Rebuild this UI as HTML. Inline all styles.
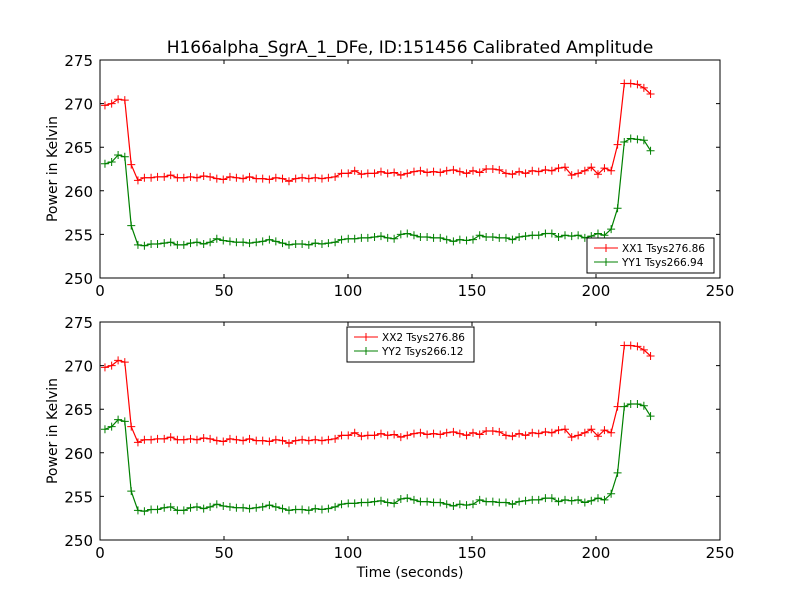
<!DOCTYPE html>
<html><head><meta charset="utf-8"><style>
body{margin:0;background:#fff;width:800px;height:600px;overflow:hidden}
svg{font-family:"DejaVu Sans","Liberation Sans",sans-serif}
</style></head><body>
<svg id="fig" width="800" height="600" xmlns="http://www.w3.org/2000/svg">
<rect width="800" height="600" fill="#fff"/>
<text x="410" y="53" font-size="17" text-anchor="middle">H166alpha_SgrA_1_DFe, ID:151456 Calibrated Amplitude</text>
<text x="410" y="577" font-size="14" text-anchor="middle">Time (seconds)</text>
</svg>
<script>
const times=[2.0,4.7,7.3,10.0,12.6,15.3,17.9,20.6,23.2,25.9,28.5,31.2,33.8,36.5,39.1,41.8,44.4,47.1,49.7,52.4,55.0,57.7,60.3,63.0,65.6,68.3,70.9,73.6,76.2,78.9,81.5,84.2,86.8,89.5,92.1,94.8,97.4,100.1,102.7,105.4,108.0,110.7,113.3,116.0,118.6,121.3,123.9,126.6,129.2,131.9,134.5,137.2,139.8,142.5,145.1,147.8,150.4,153.1,155.7,158.4,161.0,163.7,166.3,169.0,171.6,174.3,176.9,179.6,182.2,184.9,187.5,190.2,192.8,195.5,198.1,200.8,203.4,206.1,208.7,211.4,214.0,216.7,219.3,222.0];
const xx1=[269.8,270.0,270.5,270.4,263.0,261.2,261.5,261.5,261.6,261.6,261.8,261.5,261.5,261.6,261.5,261.7,261.6,261.4,261.3,261.6,261.5,261.4,261.6,261.4,261.4,261.3,261.5,261.4,261.1,261.4,261.5,261.4,261.5,261.4,261.5,261.6,262.0,262.0,262.3,261.9,262.0,262.0,262.2,262.0,262.1,261.8,262.0,262.2,262.3,262.1,262.2,262.1,262.3,262.4,262.2,262.0,262.3,262.1,262.5,262.5,262.4,262.0,261.9,262.2,262.0,262.3,262.2,262.4,262.3,262.6,262.7,261.8,262.0,262.3,262.7,261.9,262.6,262.3,265.3,272.3,272.3,272.2,271.8,271.1];
const yy1=[263.1,263.3,264.1,263.9,256.0,253.8,253.7,253.9,253.9,254.0,254.1,253.8,253.8,254.0,254.1,253.9,254.1,254.5,254.3,254.2,254.1,254.1,254.0,254.1,254.2,254.4,254.2,254.0,253.8,253.9,253.9,253.8,254.0,253.9,254.0,254.1,254.4,254.5,254.5,254.6,254.6,254.7,254.8,254.6,254.5,255.0,255.1,254.9,254.7,254.7,254.6,254.6,254.4,254.2,254.4,254.3,254.4,254.9,254.7,254.7,254.6,254.6,254.4,254.7,254.8,254.9,254.9,255.1,255.1,254.7,254.9,254.8,254.9,254.6,254.8,255.1,254.9,255.6,258.0,265.6,266.0,265.9,265.8,264.6];
const xx2=[269.8,270.0,270.6,270.4,263.0,261.2,261.5,261.5,261.6,261.6,261.8,261.5,261.5,261.6,261.5,261.7,261.6,261.4,261.3,261.6,261.5,261.4,261.6,261.4,261.4,261.3,261.5,261.4,261.1,261.4,261.5,261.4,261.5,261.4,261.5,261.6,262.0,262.0,262.3,261.9,262.0,262.0,262.2,262.0,262.1,261.8,262.0,262.2,262.3,262.1,262.2,262.1,262.3,262.4,262.2,262.0,262.3,262.1,262.5,262.5,262.4,262.0,261.9,262.2,262.0,262.3,262.2,262.4,262.3,262.6,262.7,261.8,262.0,262.3,262.7,261.9,262.6,262.3,265.3,272.3,272.3,272.2,271.8,271.1];
const yy2=[262.7,263.0,263.8,263.6,255.6,253.4,253.3,253.5,253.5,253.7,253.8,253.4,253.4,253.7,253.8,253.6,253.8,254.1,253.9,253.8,253.7,253.7,253.6,253.7,253.8,254.0,253.8,253.6,253.4,253.5,253.5,253.4,253.6,253.5,253.6,253.8,254.1,254.2,254.2,254.3,254.3,254.4,254.5,254.3,254.2,254.7,254.8,254.6,254.4,254.4,254.3,254.3,254.1,253.9,254.1,254.0,254.1,254.6,254.4,254.4,254.3,254.3,254.1,254.4,254.5,254.6,254.6,254.8,254.8,254.4,254.6,254.5,254.6,254.3,254.5,254.8,254.6,255.3,257.7,265.3,265.6,265.6,265.4,264.2];
const xTicks=[0,50,100,150,200,250];
const yTicks=[250,255,260,265,270,275];
const legend1=["XX1 Tsys276.86","YY1 Tsys266.94"];
const legend2=["XX2 Tsys276.86","YY2 Tsys266.12"];

const NS="http://www.w3.org/2000/svg";
const svg=document.getElementById('fig');
function mk(tag,attrs,parent){const e=document.createElementNS(NS,tag);for(const k in attrs)e.setAttribute(k,attrs[k]);(parent||svg).appendChild(e);return e;}

function panel(top,s1,s2,leg,lx,ly,idx){
  const L=100,R=720,T=top,B=top+218;
  const xs=v=>L+(v-0)/(250-0)*(R-L);
  const ys=v=>B-(v-250)/(275-250)*(B-T);
  const g=mk('g',{});
  
  
  [[s1,'#ff0000','xx'],[s2,'#008000','yy']].forEach(([d,c,n])=>{
    const pts=d.map((v,i)=>xs(times[i]).toFixed(1)+','+ys(v).toFixed(1)).join(' ');
    const pl=mk('polyline',{points:pts,fill:'none',stroke:c,'stroke-width':1.2},g);
    
    
    let p='';
    d.forEach((v,i)=>{const x=xs(times[i]),y=ys(v);p+=`M${x-4},${y}h8M${x},${y-4}v8`;});
    const m=mk('path',{d:p,stroke:c,'stroke-width':1,fill:'none'},g);
    
    
  });
  const fr=mk('rect',{x:L,y:T,width:R-L,height:B-T,fill:'none',stroke:'#000','stroke-width':1},g);
  
  
  xTicks.forEach(t=>{
    const x=xs(t);
    mk('path',{d:`M${x},${B}v-4M${x},${T}v4`,stroke:'#000'},g);
    const tx=mk('text',{x:x,y:B+18,'font-size':15,'text-anchor':'middle'},g);
    tx.textContent=t;
    
    
  });
  yTicks.forEach(t=>{
    const y=ys(t);
    mk('path',{d:`M${L},${y}h4M${R},${y}h-4`,stroke:'#000'},g);
    const tx=mk('text',{x:L-7,y:y+6,'font-size':15,'text-anchor':'end'},g);
    tx.textContent=t;
    
    
  });
  const yl=mk('text',{x:0,y:0,'font-size':14,'text-anchor':'middle',transform:`translate(57,${(T+B)/2}) rotate(-90)`},g);
  yl.textContent='Power in Kelvin';
  
  
  const lg=mk('g',{},g);
  
  
  mk('rect',{x:lx,y:ly,width:127,height:35,fill:'#fff',stroke:'#000'},lg);
  ['#ff0000','#008000'].forEach((c,i)=>{
    const y=ly+10+i*14;
    const e=mk('g',{},lg);
    
    
    mk('path',{d:`M${lx+7},${y}h24M${lx+19},${y-4}v8`,stroke:c},e);
    const t=mk('text',{x:lx+35,y:y+4,'font-size':10.5},e);
    t.textContent=leg[i];
  });
}
panel(60,xx1,yy1,legend1,587,238,1);
panel(322,xx2,yy2,legend2,347,327,2);
</script>
</body></html>
